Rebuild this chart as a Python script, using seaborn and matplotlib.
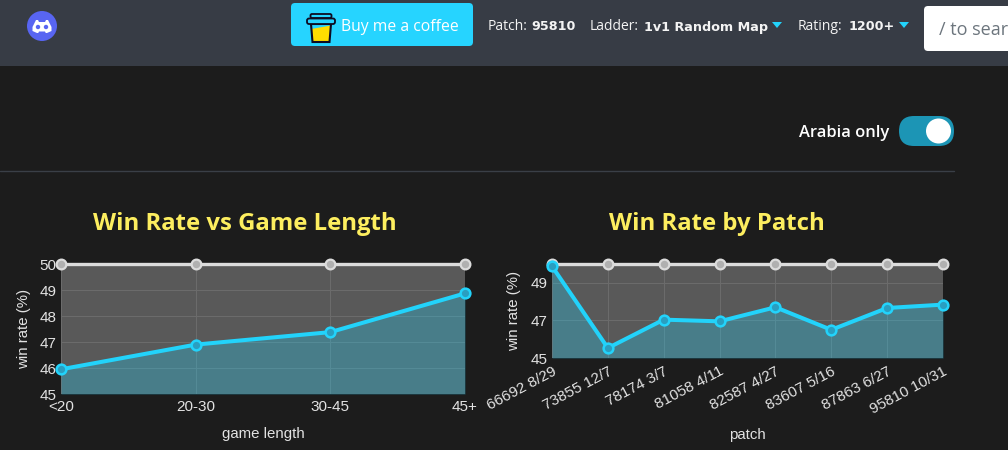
import matplotlib
matplotlib.use("Agg")
import matplotlib.pyplot as plt
import seaborn as sns
from matplotlib.patches import Circle, FancyBboxPatch, Polygon, Rectangle

# values
length_labels = ["<20", "20-30", "30-45", "45+"]
length_rates = [45.95, 46.9, 47.38, 48.87]
length_ticks = [45, 46, 47, 48, 49, 50]

patch_labels = ["66692 8/29", "73855 12/7", "78174 3/7", "81058 4/11",
                "82587 4/27", "83607 5/16", "87863 6/27", "95810 10/31"]
patch_rates = [49.88, 45.53, 47.04, 46.95, 47.7, 46.5, 47.66, 47.84]
patch_ticks = [45, 47, 49]

even_rate = 50

W, H = 1008, 450
BG = "#1c1c1c"
HEADER = "#373c45"
CYAN = "#22d3fb"
YELLOW = "#fdee5f"
TEXT = "#e2e2e2"
UI_FONT = "Open Sans"
CHART_FONT = "Liberation Sans"


def px_axes(fig, left, top, right, bottom):
    """Axes placed by pixel edges, measured from the top left."""
    return fig.add_axes([left / W, 1 - bottom / H, (right - left) / W, (bottom - top) / H])


def round_box(ax, x0, y0, x1, y1, radius, color):
    ax.add_patch(FancyBboxPatch((x0 + radius, y0 + radius), x1 - x0 - 2 * radius, y1 - y0 - 2 * radius,
                                boxstyle=f"round,pad={radius},rounding_size={radius}", fc=color, ec="none"))


def draw_page(ax):
    """Everything around the charts, in pixel coordinates."""
    ax.set_xlim(0, W)
    ax.set_ylim(H, 0)
    ax.axis("off")
    ax.add_patch(Rectangle((0, 0), W, 66, fc=HEADER, ec="none"))
    ax.plot([0, 954], [171, 171], color="#3a3f47", lw=1)

    # discord icon
    ax.add_patch(Circle((42, 26), 15, fc="#5865f2", ec="none"))
    ax.add_patch(Polygon([[36, 20], [48, 20], [51.5, 27], [51.5, 31], [47, 33], [37, 33], [32.5, 31], [32.5, 27]],
                         fc="white", ec="none"))
    ax.add_patch(Polygon([[38, 20], [46, 20], [45, 22], [39, 22]], fc="#5865f2", ec="none"))
    ax.add_patch(Polygon([[38, 33.5], [46, 33.5], [45, 31.5], [39, 31.5]], fc="#5865f2", ec="none"))
    ax.add_patch(Circle((38, 27), 2.2, fc="#5865f2", ec="none"))
    ax.add_patch(Circle((46, 27), 2.2, fc="#5865f2", ec="none"))

    # coffee button
    round_box(ax, 291, 3, 473, 46, 4, "#26d4ff")
    ax.add_patch(Polygon([[311, 24], [331, 24], [329.5, 42], [312.5, 42]], fc="#ffdd00", ec="none"))
    ax.add_patch(Polygon([[311, 24], [331, 24], [330.7, 25.5], [311.3, 29]], fc="#26d4ff", ec="none"))
    ax.add_patch(Polygon([[311, 24], [331, 24], [329.5, 42], [312.5, 42]], fc="none", ec="#0d0c22", lw=1.5))
    round_box(ax, 306, 18, 335, 24, 2, "#26d4ff")
    ax.add_patch(FancyBboxPatch((308, 19.5), 26, 3.5, boxstyle="round,pad=1,rounding_size=2", fc="none", ec="#0d0c22", lw=1.3))
    ax.add_patch(FancyBboxPatch((311, 14.5), 20, 3, boxstyle="round,pad=0.5,rounding_size=1.5", fc="none", ec="#0d0c22", lw=1.3))
    ax.text(341, 27, "Buy me a coffee", color="white", fontsize=11.3, family=UI_FONT, va="center")

    # nav text
    for x, label in [(488, "Patch:"), (590, "Ladder:"), (798, "Rating:")]:
        ax.text(x, 27, label, color="#f4f4f4", fontsize=10, family=UI_FONT, va="center")
    for x, label in [(531, "95810"), (644, "1v1 Random Map"), (849, "1200+")]:
        ax.text(x, 27, label, color="#f4f4f4", fontsize=9.2, family="DejaVu Sans", weight="bold", va="center")
    for x in [772, 899]:
        ax.add_patch(Polygon([[x, 22], [x + 10, 22], [x + 5, 28]], fc=CYAN, ec="none"))

    # search box
    round_box(ax, 924, 6, 1030, 51, 4, "white")
    ax.text(939, 30, "/ to search", color="#6c757d", fontsize=13, family=UI_FONT, va="center", clip_on=True)

    # toggle
    ax.text(889, 133, "Arabia only", color="white", fontsize=11.9, family=UI_FONT, weight="semibold", ha="right", va="center")
    round_box(ax, 899, 116, 954, 146, 15, "#1c95b5")
    ax.add_patch(Circle((938.5, 131), 12.5, fc="white", ec="none"))

    ax.text(245, 223.5, "Win Rate vs Game Length", color=YELLOW, fontsize=17.2, family=UI_FONT, weight="bold", ha="center", va="center")
    ax.text(717, 223.5, "Win Rate by Patch", color=YELLOW, fontsize=17.2, family=UI_FONT, weight="bold", ha="center", va="center")


def draw_chart(ax, labels, rates, ticks, xlabel, rotate):
    positions = list(range(len(labels)))
    ax.set_facecolor("#595959")
    ax.fill_between(positions, rates, 45, color=CYAN, alpha=0.3, lw=0, zorder=3)
    sns.lineplot(x=positions, y=[even_rate] * len(labels), ax=ax, color="#dcdcdc", lw=2.4, marker="o", ms=7,
                 mfc="#b0b0b0", mec="#dcdcdc", mew=1.6, clip_on=False, zorder=4)
    sns.lineplot(x=positions, y=rates, ax=ax, color=CYAN, lw=2.9, marker="o", ms=7,
                 mfc="#2a9ec0", mec=CYAN, mew=1.8, clip_on=False, zorder=5)
    ax.set_xlim(0, len(labels) - 1)
    ax.set_ylim(45, 50)
    ax.set_yticks(ticks)
    ax.set_xticks(positions)
    if rotate:
        ax.set_xticklabels(labels, rotation=28, ha="right", rotation_mode="anchor")
    else:
        ax.set_xticklabels(labels)
    ax.grid(True, color="#6b6b6b", lw=0.8)
    ax.set_axisbelow(True)
    ax.tick_params(axis="y", length=0, colors=TEXT, labelsize=11, pad=3)
    ax.tick_params(axis="x", length=0, colors=TEXT, labelsize=11, pad=4.5)
    for side, spine in ax.spines.items():
        spine.set_visible(False)
    ax.set_xlabel(xlabel, color=TEXT, fontsize=10.8)
    ax.set_ylabel("win rate (%)", color=TEXT, fontsize=10.8)


def main():
    sns.set_theme(style="dark")
    plt.rcParams["font.family"] = [CHART_FONT, "DejaVu Sans"]
    fig = plt.figure(figsize=(W / 100, H / 100), dpi=100, facecolor=BG)

    page = fig.add_axes([0, 0, 1, 1])
    draw_page(page)

    left = px_axes(fig, 61, 264, 465, 394)
    draw_chart(left, length_labels, length_rates, length_ticks, "game length", False)
    left.xaxis.set_label_coords(0.5, -0.255)
    left.yaxis.set_label_coords(-0.074, 0.5)

    right = px_axes(fig, 552, 264, 943, 358)
    draw_chart(right, patch_labels, patch_rates, patch_ticks, "patch", True)
    right.xaxis.set_label_coords(0.5, -0.74)
    right.yaxis.set_label_coords(-0.08, 0.5)

    fig.savefig("out.png", dpi=100, facecolor=BG)


if __name__ == "__main__":
    main()
